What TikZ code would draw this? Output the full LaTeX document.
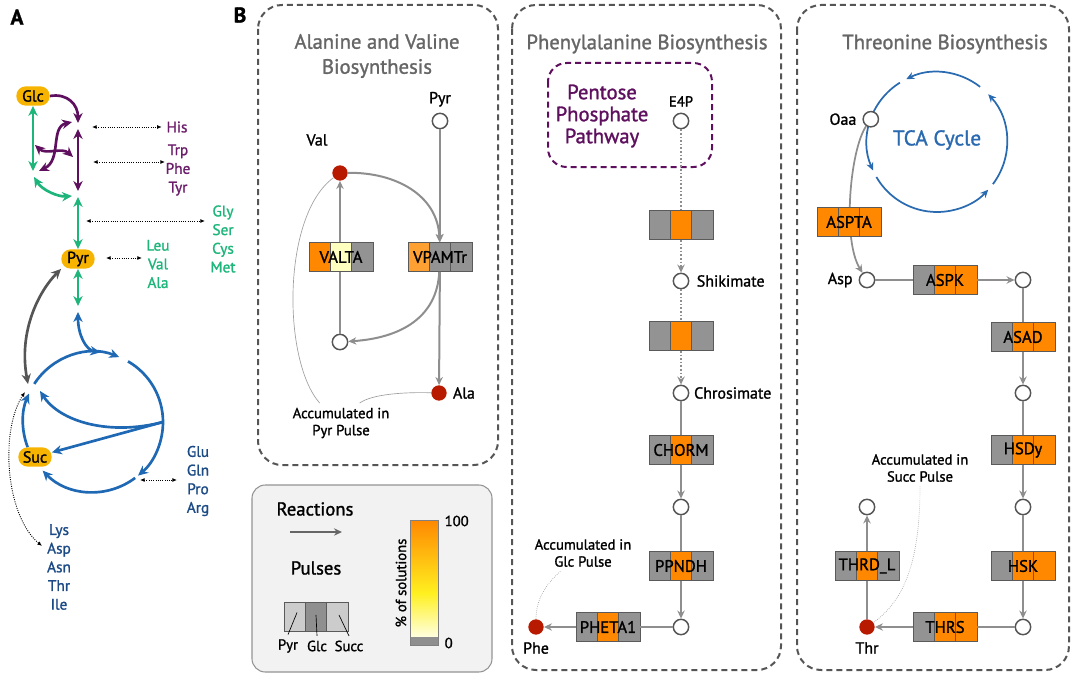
\documentclass[tikz,border=0pt]{standalone}
\usepackage{fontspec}
\setmainfont{PT Sans}[RawFeature={embolden=1.3}]
\usetikzlibrary{arrows.meta,positioning,calc}

\definecolor{gold}{HTML}{F6B400}
\definecolor{purp}{HTML}{5E0F5E}
\definecolor{purptxt}{HTML}{6B1D6B}
\definecolor{grn}{HTML}{1DB57A}
\definecolor{blu}{HTML}{1F68B3}
\definecolor{navy}{HTML}{1C4A85}
\definecolor{orng}{HTML}{FF8800}
\definecolor{orng2}{HTML}{FFA033}
\definecolor{pale}{HTML}{FFFFC0}
\definecolor{cellgray}{HTML}{939393}
\definecolor{rline}{HTML}{5A5A5A}
\definecolor{arrgray}{HTML}{8E8E8E}
\definecolor{cline}{HTML}{555555}
\definecolor{accred}{HTML}{B81A00}
\definecolor{ttlgray}{HTML}{666666}
\definecolor{tcab}{HTML}{2A6AB0}
\definecolor{leggray}{HTML}{F2F2F2}
\definecolor{lgray}{HTML}{CCCCCC}
\definecolor{dgray}{HTML}{8F8F8F}
\definecolor{cbyel}{HTML}{FFF020}
\definecolor{cbpale}{HTML}{FFFFE0}

\newcommand{\rxnfont}{\fontsize{12.5}{14}\selectfont}
\newcommand{\ttlfont}{\fontsize{15.5}{18.75}\selectfont}
\newcommand{\lblfont}{\fontsize{11.5}{14}\selectfont}
\newcommand{\smfont}{\fontsize{11}{12.75}\selectfont}
\newcommand{\metfont}{\fontsize{12}{13}\selectfont}

% reaction box: name, centre, three pulse colours, label
\newcommand{\rxnbox}[6]{%
  \begin{scope}[shift={(#2)}]
    \fill[#3] (-32,-14.5) rectangle (-10.67,14.5);
    \fill[#4] (-10.67,-14.5) rectangle (10.67,14.5);
    \fill[#5] (10.67,-14.5) rectangle (32,14.5);
    \draw[rline,line width=0.5pt] (-10.67,-14.5) -- (-10.67,14.5) (10.67,-14.5) -- (10.67,14.5);
  \end{scope}
  \node[rxn] (#1) at (#2) {#6};}

\tikzset{
  Atip/.tip={Stealth[length=7.5pt,width=7pt]},
  Btip/.tip={Stealth[length=6pt,width=5.5pt]},
  Dtip/.tip={Latex[length=3.5pt,width=3pt]},
  pill/.style={fill=gold, rounded corners=7pt, minimum width=25pt, minimum height=14.5pt, inner sep=1pt, font=\fontsize{12}{13}\selectfont},
  apath/.style={line width=2pt},
  purparr/.style={apath, draw=purp, -{Atip}},
  purpdbl/.style={apath, draw=purp, {Atip}-{Atip}},
  grndbl/.style={apath, draw=grn, {Atip}-{Atip}},
  bluarr/.style={apath, draw=blu, -{Atip}},
  bludbl/.style={apath, draw=blu, {Atip}-{Atip}},
  graydbl/.style={apath, draw=cline, {Atip}-{Atip}},
  dotdbl/.style={densely dotted, line width=0.7pt, {Dtip}-{Dtip}},
  lblA/.style={font=\lblfont, align=center},
  met/.style={draw=cline, fill=white, circle, line width=1.1pt, minimum size=11.5pt, inner sep=0pt},
  acc/.style={fill=accred, circle, minimum size=11.5pt, inner sep=0pt},
  metlbl/.style={font=\metfont},
  rxn/.style={draw=rline, line width=0.6pt, minimum width=48pt, minimum height=21.75pt, inner sep=0pt, font=\rxnfont},
  flow/.style={draw=arrgray, line width=1.5pt},
  flowarr/.style={flow, -{Btip}},
  flowdot/.style={draw=arrgray, line width=1.2pt, dash pattern=on 1.2pt off 1.5pt},
  note/.style={draw=gray!75, line width=0.5pt},
  smlbl/.style={font=\smfont, align=center},
  dashbox/.style={draw=cline, line width=1.5pt, dash pattern=on 4.5pt off 3pt, rounded corners=18pt},
  ttl/.style={font=\ttlfont, text=ttlgray, align=center},
  tcaarr/.style={draw=tcab, line width=1.3pt, -{Btip}}
}

\begin{document}
\begin{tikzpicture}[x=0.75pt,y=-0.75pt]
\useasboundingbox (0,0) rectangle (1072,674);

\node[font=\fontsize{16}{18}\selectfont\bfseries] (labA) at (17,17) {A};
\node[font=\fontsize{16}{18}\selectfont\bfseries] (labB) at (240,15) {B};

%% panel A
\node[pill] (Glc) at (33,96) {Glc};
\node[pill] (Pyr) at (78,259) {Pyr};
\node[pill] (Suc) at (35,457) {Suc};

\coordinate (pTop) at (78,123);
\coordinate (pT2) at (78,129);
\coordinate (pBot) at (78,191);
\coordinate (gTop) at (78,197);
\coordinate (gL) at (33,171);
\coordinate (gL2) at (34,177);
\coordinate (gR) at (72,196);
\coordinate (pu1) at (72,122);
\coordinate (pu2) at (39,171);
\coordinate (pu3) at (35,145);
\coordinate (pu4) at (73,157);
\coordinate (gPyr) at (78,306);
\coordinate (bPyr) at (78,312);
\coordinate (cyc) at (93,422);
\coordinate (cTop) at ($(cyc)+(-84:70)$);
\coordinate (cR) at ($(cyc)+(0:70)$);
\coordinate (cAc) at (40,391);
\coordinate (cGr) at (28,384);
\coordinate (cLys) at (25,392);

\draw[purparr] (Glc.east) .. controls (68,93) and (78,105) .. (pTop);
\draw[purpdbl] (pT2) -- (pBot);
\draw[purpdbl] (pu2) .. controls (62,160) and (50,127) .. (pu1);
\draw[purpdbl] (pu3) .. controls (46,155) and (62,147) .. (pu4);

\draw[grndbl] (Glc.south) -- (gL);
\draw[grndbl] (gL2) .. controls (42,190) and (58,197) .. (gR);
\draw[grndbl] (gTop) -- (Pyr.north);
\draw[grndbl] (Pyr.south) -- (gPyr);

\draw[bludbl] (bPyr) .. controls (78,335) and (86,350) .. (cTop);
\draw[bluarr] ($(cyc)+(-147:70)$) arc[start angle=-147, end angle=-68, radius=70];
\draw[bluarr] ($(cyc)+(-60:70)$) arc[start angle=-60, end angle=50, radius=70];
\draw[bluarr] ($(cyc)+(53:70)$) arc[start angle=53, end angle=136, radius=70];
\draw[bluarr] ($(cyc)+(-201:70)$) arc[start angle=-201, end angle=-156, radius=70];
\draw[bluarr] (cR) .. controls (110,436) and (60,422) .. (cAc);
\draw[bluarr] (cR) -- (Suc);

\draw[graydbl] (cGr) .. controls (18,330) and (40,290) .. (Pyr.south west);

\node[lblA, text=purptxt] (his) at (177,127) {His};
\node[lblA, text=purptxt] (aro) at (178,170) {Trp\\Phe\\Tyr};
\node[lblA, text=grn] (gly) at (223,239) {Gly\\Ser\\Cys\\Met};
\node[lblA, text=grn] (leu) at (158,264) {Leu\\Val\\Ala};
\node[lblA, text=navy] (glu) at (198,481) {Glu\\Gln\\Pro\\Arg};
\node[lblA, text=navy] (lys) at (59,567) {Lys\\Asp\\Asn\\Thr\\Ile};

\coordinate (hisA) at (92,127);
\coordinate (aroA) at (93,162);
\coordinate (aroB) at (165,162);
\coordinate (glyA) at (86,221);
\coordinate (glyB) at (205,221);
\coordinate (leuA) at (106,258);
\coordinate (leuB) at (142,258);
\coordinate (gluA) at (140,480);
\coordinate (gluB) at (177,480);
\coordinate (lysB) at (42,546);

\draw[dotdbl] (hisA) -- (his);
\draw[dotdbl] (aroA) -- (aroB);
\draw[dotdbl] (glyA) -- (glyB);
\draw[dotdbl] (leuA) -- (leuB);
\draw[dotdbl] (gluA) -- (gluB);
\draw[dotdbl] (cLys) .. controls (0,430) and (5,515) .. (lysB);

%% panel B: alanine and valine
\draw[dashbox] (258,5) rectangle (498,465);
\node[ttl] (t1) at (377,56) {Alanine and Valine\\Biosynthesis};

\node[met] (pyr1) at (440,121) {};
\node[metlbl, above=1pt of pyr1] (pyr1l) {Pyr};
\node[acc] (val) at (340,173) {};
\node[metlbl] (vall) at (317,140) {Val};
\node[met] (c1) at (340,342) {};
\node[acc] (ala) at (439,393) {};
\node[metlbl, right=1pt of ala] (alal) {Ala};

\draw[flowarr] (c1) -- (val);
\rxnbox{VALTA}{341,257}{orng}{pale}{cellgray}{VALTA}
\rxnbox{VPAMTr}{440,257}{orng2}{cellgray}{cellgray}{VPAMTr}
\draw[flowarr] (pyr1) -- (VPAMTr);
\draw[flowarr] (val) .. controls (395,172) and (438,195) .. (VPAMTr);
\draw[flowarr] (VPAMTr) .. controls (437,318) and (400,338) .. (c1);
\draw[flowarr] (VPAMTr) -- (ala);

\node[smlbl] (acc1) at (341,423) {Accumulated in\\Pyr Pulse};
\draw[note] ([xshift=-16pt]acc1.north) .. controls (282,360) and (282,215) .. (val);
\draw[note] ([xshift=14pt]acc1.north) .. controls (372,394) and (405,392) .. (ala);

%% legend
\draw[draw=gray!85, fill=leggray, line width=0.8pt, rounded corners=10pt] (252,485) rectangle (492,672);
\node[font=\fontsize{14}{15}\selectfont] (reac) at (315,509) {Reactions};
\coordinate (rA) at (290,532);
\coordinate (rB) at (342,532);
\draw[flowarr, draw=cline!90] (rA) -- (rB);
\node[font=\fontsize{14}{15}\selectfont] (puls) at (316,568) {Pulses};
\rxnbox{pulse}{316,617}{lgray}{dgray}{lgray}{}
\node[smlbl] (pp) at (288,646) {Pyr};
\node[smlbl] (pg) at (317,646) {Glc};
\node[smlbl] (ps) at (349,646) {Succ};
\draw[line width=0.5pt] (pp.north) -- ++(9,-22);
\draw[line width=0.5pt] (pg.north) -- ++(-1,-21);
\draw[line width=0.5pt] (ps.north) -- ++(-10,-21);

\shade[top color=orng, bottom color=cbyel] (410,520) rectangle (438,593);
\shade[top color=cbyel, bottom color=cbpale] (410,593) rectangle (438,637);
\fill[dgray] (410,637) rectangle (438,645);
\draw[gray, line width=0.6pt] (410,520) rectangle (438,645);
\node[smlbl, anchor=west] (cb100) at (440,521) {100};
\node[smlbl, anchor=west] (cb0) at (440,643) {0};
\node[smlbl, rotate=90] (cbl) at (401,583) {\% of solutions};

%% panel B: phenylalanine
\draw[dashbox] (512,5) rectangle (781,670);
\node[ttl] (t2) at (647,44) {Phenylalanine Biosynthesis};
\draw[draw=purp, line width=1.5pt, dash pattern=on 4.5pt off 3pt, rounded corners=14pt] (548,63) rectangle (712,167);
\node[font=\fontsize{15.5}{16.5}\selectfont, text=purp, align=center] (ppp) at (602,116) {Pentose\\Phosphate\\Pathway};

\node[met] (e4p) at (681,121) {};
\node[metlbl, font=\fontsize{11}{12}\selectfont, above=1pt of e4p] (e4pl) {E4P};
\rxnbox{r1}{681,225}{cellgray}{orng}{cellgray}{}
\node[met] (shik) at (681,281) {};
\node[metlbl, right=2pt of shik] (shikl) {Shikimate};
\rxnbox{r2}{681,336}{cellgray}{orng}{cellgray}{}
\node[met] (chor) at (681,393) {};
\node[metlbl, right=0pt of chor] (chorl) {Chrosimate};
\rxnbox{CHORM}{681,450}{cellgray}{orng}{cellgray}{CHORM}
\node[met] (c2) at (681,507) {};
\rxnbox{PPNDH}{681,566}{cellgray}{orng}{cellgray}{PPNDH}
\node[met] (c3) at (681,627) {};
\rxnbox{PHETA1}{608,627}{cellgray}{orng}{cellgray}{PHETA1}
\node[acc] (phe) at (536,627) {};
\node[metlbl, below=2pt of phe] (phel) {Phe};

\draw[flowdot] (e4p) -- (r1);
\draw[flowdot, -{Btip}] (r1) -- (shik);
\draw[flowdot] (shik) -- (r2);
\draw[flowdot, -{Btip}] (r2) -- (chor);
\draw[flow] (chor) -- (CHORM);
\draw[flowarr] (CHORM) -- (c2);
\draw[flow] (c2) -- (PPNDH);
\draw[flowarr] (PPNDH) -- (c3);
\draw[flow] (c3) -- (PHETA1);
\draw[flowarr] (PHETA1) -- (phe);

\node[smlbl] (acc2) at (583,553) {Accumulated in\\Glc Pulse};
\draw[note, densely dotted] ([xshift=-17pt]acc2.south) .. controls (545,585) and (536,600) .. (phe);

%% panel B: threonine
\draw[dashbox] (797,5) rectangle (1069,670);
\node[ttl] (t3) at (945,44) {Threonine Biosynthesis};

\coordinate (tca) at (937,142);
\draw[tcaarr] ($(tca)+(-52:70)$) arc[start angle=-52, end angle=-116, radius=70];
\draw[tcaarr] ($(tca)+(-122:70)$) arc[start angle=-122, end angle=-204, radius=70];
\draw[tcaarr] ($(tca)+(-210:70)$) arc[start angle=-210, end angle=-317, radius=70];
\draw[tcaarr] ($(tca)+(-323:70)$) arc[start angle=-323, end angle=-403, radius=70];
\node[font=\fontsize{16}{17}\selectfont, text=tcab] (tcal) at (937,140) {TCA Cycle};

\node[met] (oaa) at ($(tca)+(-161:70)$) {};
\node[metlbl, left=1pt of oaa] (oaal) {Oaa};
\node[met] (asp) at (867,280) {};
\node[metlbl, left=1pt of asp] (aspl) {Asp};
\draw[flowarr, line width=1.3pt] (oaa) .. controls (850,150) and (842,240) .. (asp);
\rxnbox{ASPTA}{849,222}{orng}{orng}{orng}{ASPTA}

\rxnbox{ASPK}{945,280}{cellgray}{orng}{orng}{ASPK}
\node[met] (c4) at (1023,280) {};
\rxnbox{ASAD}{1023,337}{cellgray}{orng}{orng}{ASAD}
\node[met] (c5) at (1023,393) {};
\rxnbox{HSDy}{1023,450}{cellgray}{orng}{orng}{HSDy}
\node[met] (c6) at (1023,507) {};
\rxnbox{HSK}{1023,566}{cellgray}{orng}{orng}{HSK}
\node[met] (c7) at (1023,627) {};
\rxnbox{THRS}{945,627}{cellgray}{orng}{orng}{THRS}
\node[acc] (thr) at (867,627) {};
\node[metlbl, below=2pt of thr] (thrl) {Thr};
\rxnbox{THRDL}{867,566}{cellgray}{orng}{cellgray}{THRD\_L}
\node[met] (c8) at (867,507) {};

\draw[flow] (asp) -- (ASPK);
\draw[flowarr] (ASPK) -- (c4);
\draw[flow] (c4) -- (ASAD);
\draw[flowarr] (ASAD) -- (c5);
\draw[flow] (c5) -- (HSDy);
\draw[flowarr] (HSDy) -- (c6);
\draw[flow] (c6) -- (HSK);
\draw[flowarr] (HSK) -- (c7);
\draw[flow] (c7) -- (THRS);
\draw[flowarr] (THRS) -- (thr);
\draw[flow] (thr) -- (THRDL);
\draw[flowarr] (THRDL) -- (c8);

\node[smlbl] (acc3) at (920,468) {Accumulated in\\Succ Pulse};
\draw[note, densely dotted] (acc3.south) .. controls (920,560) and (905,600) .. (thr);

\end{tikzpicture}
\end{document}
